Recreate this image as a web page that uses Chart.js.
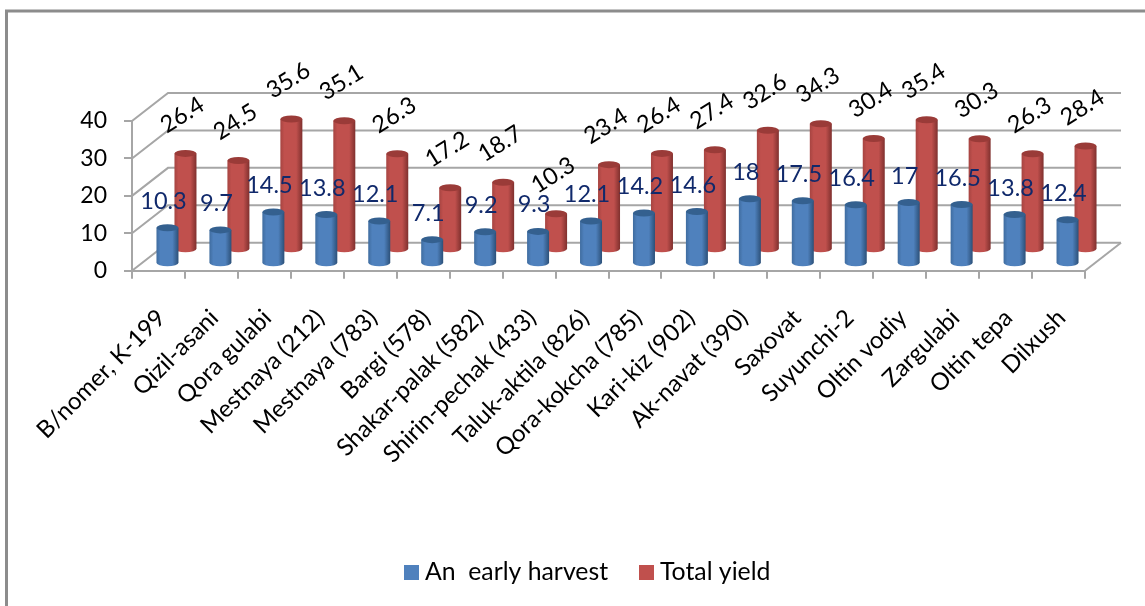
<!DOCTYPE html>
<html>
<head>
<meta charset="utf-8">
<style>
  html, body { margin: 0; padding: 0; background: #fff; }
  #wrap { width: 1145px; height: 606px; }
</style>
<script src="https://cdn.jsdelivr.net/npm/chart.js@4"></script>
</head>
<body>
<div id="wrap"><canvas id="chart"></canvas></div>
<script>
"use strict";
const varieties = ["B/nomer, K-199", "Qizil-asani", "Qora gulabi", "Mestnaya (212)", "Mestnaya (783)", "Bargi (578)",
    "Shakar-palak (582)", "Shirin-pechak (433)", "Taluk-aktila (826)", "Qora-kokcha (785)", "Kari-kiz (902)",
    "Ak-navat (390)", "Saxovat", "Suyunchi-2", "Oltin vodiy", "Zargulabi", "Oltin tepa", "Dilxush"];
const earlyHarvest = [10.3, 9.7, 14.5, 13.8, 12.1, 7.1, 9.2, 9.3, 12.1, 14.2, 14.6, 18, 17.5, 16.4, 17, 16.5, 13.8, 12.4];
const totalYield = [26.4, 24.5, 35.6, 35.1, 26.3, 17.2, 18.7, 10.3, 23.4, 26.4, 27.4, 32.6, 34.3, 30.4, 35.4, 30.3, 26.3, 28.4];
const yTicks = [0, 10, 20, 30, 40];

const FONT = "Lato";
const GRAY = "#a6a6a6";
// how far the back wall sits from the front plane
const DEPTH_X = 36;
const DEPTH_Y = -28;
// look of each row of cylinders, first dataset is the front row
const rows = [
    { depth: 0.25, edgeL: "#3f6c9f", mid: "#4f81bd", edgeR: "#2c5078", cap: "#34608f", text: "#10296b", rotate: 0, dx: -4, dy: -24, legendX: 404 },
    { depth: 0.75, edgeL: "#a64441", mid: "#c0504d", edgeR: "#7f302e", cap: "#9a3b38", text: "#000000", rotate: -32, dx: -3, dy: -36, legendX: 639 }
];

function drawCylinder(ctx, x, top, base, rx, ry, row) {
    const grad = ctx.createLinearGradient(x - rx, 0, x + rx, 0);
    grad.addColorStop(0, row.edgeL);
    grad.addColorStop(0.18, row.mid);
    grad.addColorStop(0.72, row.mid);
    grad.addColorStop(1, row.edgeR);
    ctx.fillStyle = grad;
    ctx.beginPath();
    ctx.moveTo(x - rx, top);
    ctx.lineTo(x - rx, base);
    ctx.ellipse(x, base, rx, ry, 0, Math.PI, 0, true);
    ctx.lineTo(x + rx, top);
    ctx.closePath();
    ctx.fill();
    ctx.fillStyle = row.cap;
    ctx.beginPath();
    ctx.ellipse(x, top, rx, ry, 0, 0, Math.PI * 2);
    ctx.fill();
}

const chart3d = {
    id: "chart3d",
    beforeDraw(chart) {
        // chart frame, only top and left edges show in the picture
        const ctx = chart.ctx;
        ctx.save();
        ctx.strokeStyle = "#8c8c8c";
        ctx.lineWidth = 3;
        ctx.beginPath();
        ctx.moveTo(6.5, 606);
        ctx.lineTo(6.5, 11);
        ctx.lineTo(1145, 11);
        ctx.stroke();
        ctx.restore();
    },
    beforeDatasetsDraw(chart) {
        // side wall, back wall and floor
        const ctx = chart.ctx;
        const { left, right, bottom } = chart.chartArea;
        ctx.save();
        ctx.strokeStyle = GRAY;
        ctx.lineWidth = 2;
        yTicks.forEach((v) => {
            const y = chart.scales.y.getPixelForValue(v);
            ctx.beginPath();
            ctx.moveTo(left, y);
            ctx.lineTo(left + DEPTH_X, y + DEPTH_Y);
            ctx.lineTo(right + DEPTH_X, y + DEPTH_Y);
            ctx.stroke();
        });
        ctx.beginPath();
        ctx.moveTo(right, bottom);
        ctx.lineTo(right + DEPTH_X, bottom + DEPTH_Y);
        ctx.stroke();
        ctx.restore();
    },
    beforeDatasetDraw(chart, args) {
        // cylinders replace the flat bars, the rim of the cap marks the value
        const row = rows[args.index];
        const ctx = chart.ctx;
        ctx.save();
        args.meta.data.forEach((bar) => {
            const x = bar.x + DEPTH_X * row.depth;
            const shift = DEPTH_Y * row.depth;
            drawCylinder(ctx, x, bar.y + shift + 2.5, bar.base + shift, 11, 3.5, row);
        });
        ctx.restore();
        return false;
    },
    afterDatasetsDraw(chart) {
        const ctx = chart.ctx;
        ctx.save();
        ctx.font = "23.5px " + FONT;
        ctx.textAlign = "center";
        ctx.textBaseline = "middle";
        chart.data.datasets.forEach((dataset, i) => {
            const row = rows[i];
            chart.getDatasetMeta(i).data.forEach((bar, j) => {
                ctx.save();
                ctx.translate(bar.x + DEPTH_X * row.depth + row.dx, bar.y + DEPTH_Y * row.depth + row.dy);
                ctx.rotate(row.rotate * Math.PI / 180);
                ctx.fillStyle = row.text;
                ctx.fillText(String(dataset.data[j]), 0, 0);
                ctx.restore();
            });
        });
        ctx.restore();
    },
    afterDraw(chart) {
        // legend sits tighter than the built-in one allows
        const ctx = chart.ctx;
        ctx.save();
        ctx.font = "24.8px " + FONT;
        ctx.textAlign = "left";
        ctx.textBaseline = "middle";
        chart.data.datasets.forEach((dataset, i) => {
            const x = rows[i].legendX;
            ctx.fillStyle = dataset.backgroundColor;
            ctx.fillRect(x, 565, 15, 15);
            ctx.fillStyle = "#000";
            ctx.fillText(dataset.label, x + 21, 572);
        });
        ctx.restore();
    }
};

new Chart(document.getElementById("chart"), {
    type: "bar",
    data: {
        labels: varieties,
        datasets: [
            { label: "An  early harvest", data: earlyHarvest, backgroundColor: "#4f81bd", grouped: false },
            { label: "Total yield", data: totalYield, backgroundColor: "#c0504d", grouped: false }
        ]
    },
    plugins: [chart3d],
    options: {
        responsive: true,
        maintainAspectRatio: false,
        animation: false,
        layout: { padding: { left: 40, right: 60, top: 121, bottom: 0 } },
        scales: {
            x: {
                afterFit: (scale) => { scale.height = 335.3; },
                border: { color: GRAY, width: 2 },
                grid: { drawOnChartArea: false, color: GRAY, lineWidth: 2, tickLength: 8, offset: true },
                ticks: { color: "#000", font: { family: FONT, size: 24 }, minRotation: 45, maxRotation: 45, autoSkip: false, padding: 25, labelOffset: 3 }
            },
            y: {
                min: 0,
                max: 40,
                afterFit: (scale) => { scale.width = 92; },
                border: { color: GRAY, width: 2 },
                grid: { drawOnChartArea: false, color: GRAY, lineWidth: 2, tickLength: 8 },
                ticks: { color: "#000", font: { family: FONT, size: 23 }, stepSize: 10, padding: 17 }
            }
        },
        plugins: {
            tooltip: { enabled: false },
            legend: { display: false }
        }
    }
});
</script>
</body>
</html>
